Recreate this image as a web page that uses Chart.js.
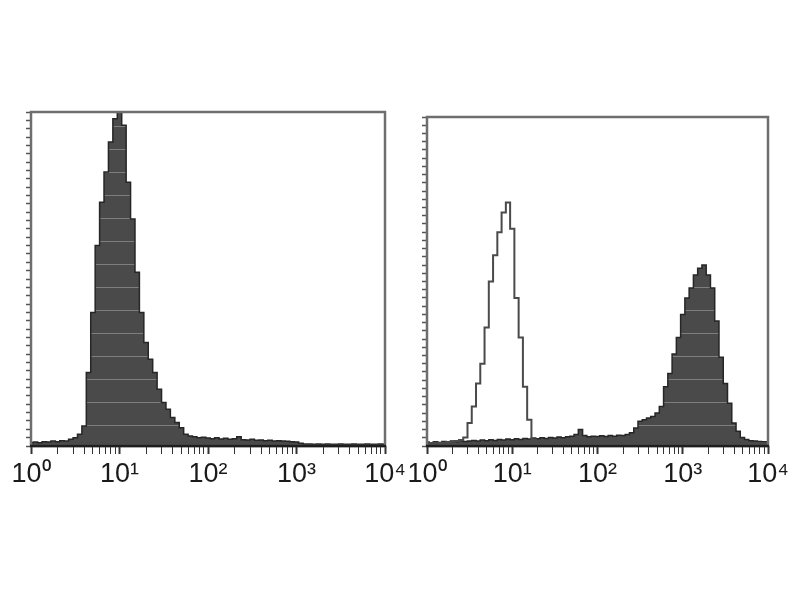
<!DOCTYPE html>
<html>
<head>
<meta charset="utf-8">
<script src="https://cdn.jsdelivr.net/npm/chart.js@4.4.0/dist/chart.umd.min.js"></script>
<style>
  html, body { margin: 0; padding: 0; background: #ffffff; }
  #wrap { position: relative; width: 800px; height: 600px; }
  canvas { position: absolute; top: 0; }
  #c1 { left: 0; z-index: 1; }
  #c2 { left: 400px; z-index: 2; }
</style>
</head>
<body>
<div id="wrap">
  <canvas id="c1" width="420" height="600"></canvas>
  <canvas id="c2" width="400" height="600"></canvas>
</div>
<script>
// channel positions (in decades, 10^0 .. 10^4)
const channels = [0,0.05,0.1,0.15,0.2,0.25,0.3,0.35,0.4,0.45,
  0.5,0.55,0.6,0.65,0.7,0.75,0.8,0.85,0.9,0.95,
  1,1.05,1.1,1.15,1.2,1.25,1.3,1.35,1.4,1.45,
  1.5,1.55,1.6,1.65,1.7,1.75,1.8,1.85,1.9,1.95,
  2,2.05,2.1,2.15,2.2,2.25,2.3,2.35,2.4,2.45,
  2.5,2.55,2.6,2.65,2.7,2.75,2.8,2.85,2.9,2.95,
  3,3.05,3.1,3.15,3.2,3.25,3.3,3.35,3.4,3.45,
  3.5,3.55,3.6,3.65,3.7,3.75,3.8,3.85,3.9,3.95,4];

// tick labels for the decades
const decadeLabels = ['10\u2070','10\u00B9','10\u00B2','10\u00B3','10\u2074'];

// left panel: filled histogram (% of max)
const leftCounts = [1,1.2,1,1.3,1.2,1.5,1.3,1.6,1.5,2,
  2.5,3.5,6,22,40,60,73,82,91,98,
  100,96,79,68,52,40,31,26,22,17,
  13,11,8.5,7,5.5,3.5,3,2.8,2.5,2.6,
  2.4,2.2,2.5,2.1,2.3,2,2.2,2.8,1.9,1.8,
  2,1.7,1.8,1.6,1.7,1.5,1.6,1.5,1.4,1.3,
  1.2,0.8,0.6,0.6,0.5,0.6,0.5,0.6,0.5,0.5,
  0.6,0.5,0.5,0.6,0.5,0.5,0.6,0.5,0.5,0.6,0.5];

// right panel: open (control) histogram
const rightOpen = [0.8,0.9,1,0.9,1,1.2,1.3,1.5,1.8,2.6,
  7,12,19,25,36,50,58,65,71,74,
  66,45,33,18,8,2,1.2,
  1,0.9,1,1.1,0.9,1,0.8,1,0.9,
  1,1.2,0.9,1,0.8,0.9,1,1,0.9,
  1,0.8,1,0.9,1.1,1,0.9,1,0.8,
  1,0.9,1,0.8,1,0.9,1,0.8,0.9,
  1,0.8,0.9,1,0.8,0.9,0.8,1,0.9,
  0.8,0.9,0.8,0.9,0.8,0.9,0.8,0.8,0.8];

// right panel: filled (stained) histogram
const rightFilled = [1.2,1,1.3,1.1,1.4,1.2,1.5,1.3,1.6,1.4,
  1.5,1.7,1.5,1.8,1.6,1.9,1.7,2,1.8,2.1,
  1.9,2.2,2,2.3,2.1,2.4,2.2,2.5,2.3,2.6,
  2.4,2.7,2.5,2.8,3,3.5,5,3.2,2.8,3,
  2.9,3.1,2.9,3.2,3,3.3,3.2,3.5,4,5.5,
  7.5,8,8.5,9,10,12,18,22,28,33,
  40,45,48,52,54,55,52,48,38,27,
  19,13,7,4.5,2.6,2,1.6,1.5,1.4,1.3,1.2];

function pts(arr) { return arr.map((v, i) => ({ x: channels[i], y: v })); }

function makePattern() {
  const p = document.createElement('canvas');
  p.width = 8; p.height = 23;
  const g = p.getContext('2d');
  g.fillStyle = '#4a4a4a';
  g.fillRect(0, 0, 8, 23);
  g.fillStyle = '#7e7e7e';
  g.fillRect(0, 11, 8, 1);
  return g.createPattern(p, 'repeat');
}

const framePlugin = {
  id: 'frame',
  afterDatasetsDraw(chart) {
    const a = chart.chartArea, ctx = chart.ctx;
    ctx.save();
    ctx.strokeStyle = '#6e6e6e';
    ctx.lineWidth = 2.5;
    ctx.strokeRect(a.left, a.top, a.right - a.left, a.bottom - a.top);
    ctx.strokeStyle = '#1e1e1e';
    ctx.lineWidth = 2.5;
    ctx.beginPath();
    ctx.moveTo(a.left - 1, a.bottom);
    ctx.lineTo(a.right + 1, a.bottom);
    ctx.stroke();
    ctx.restore();
  }
};

function buildChart(id, datasets, pad) {
  return new Chart(document.getElementById(id), {
    type: 'line',
    data: { datasets },
    plugins: [framePlugin],
    options: {
      responsive: false,
      animation: false,
      layout: { padding: pad },
      plugins: { legend: { display: false }, tooltip: { enabled: false } },
      elements: { point: { radius: 0 } },
      scales: {
        x: {
          type: 'linear', min: 0, max: 4,
          afterBuildTicks(s) {
            const t = [];
            for (let n = 0; n < 4; n++) {
              for (let m = 1; m <= 9; m++) t.push({ value: n + Math.log10(m) });
            }
            t.push({ value: 4 });
            s.ticks = t;
          },
          afterFit(s) { s.height = 60; s.paddingLeft = 0; s.paddingRight = 0; },
          border: { display: false },
          grid: {
            drawOnChartArea: false, drawTicks: true, tickLength: 8,
            tickColor: '#333',
            tickWidth: c => (Math.abs(c.tick.value - Math.round(c.tick.value)) < 1e-9 ? 2 : 1)
          },
          ticks: {
            autoSkip: false, maxRotation: 0, minRotation: 0, padding: 4,
            color: '#1a1a1a',
            font: { family: "'Liberation Sans Narrow', 'Liberation Sans', Arial, sans-serif", size: 27 },
            callback(v) {
              const r = Math.round(v);
              return Math.abs(v - r) < 1e-9 ? decadeLabels[r] : '';
            }
          }
        },
        y: {
          type: 'linear', min: 0, max: 100,
          afterFit(s) { s.width = 6; s.paddingTop = 0; s.paddingBottom = 0; },
          border: { display: false },
          grid: { drawOnChartArea: false, drawTicks: true, tickLength: 5, tickColor: '#555', tickWidth: 1.5 },
          ticks: { display: false, stepSize: 2.5, maxTicksLimit: 100 }
        }
      }
    }
  });
}

const fillPattern = makePattern();

buildChart('c1', [
  {
    data: pts(leftCounts), stepped: 'middle', fill: 'origin',
    backgroundColor: fillPattern, borderColor: '#262626', borderWidth: 1.5
  }
], { left: 25, right: 35, top: 112, bottom: 94 });

buildChart('c2', [
  {
    data: pts(rightOpen), stepped: 'middle', fill: false,
    borderColor: '#4a4a4a', borderWidth: 2
  },
  {
    data: pts(rightFilled), stepped: 'middle', fill: 'origin',
    backgroundColor: fillPattern, borderColor: '#262626', borderWidth: 1.5
  }
], { left: 21, right: 32, top: 117, bottom: 94 });
</script>
</body>
</html>
